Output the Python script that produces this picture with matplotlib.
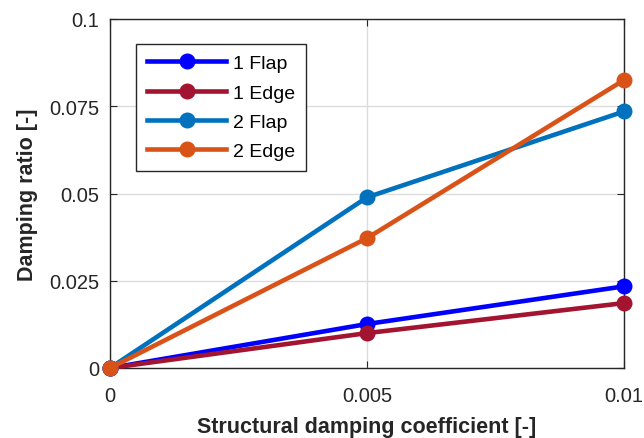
import matplotlib
matplotlib.use("Agg")
import matplotlib.pyplot as plt

x = [0, 0.005, 0.01]
flap1 = [0, 0.0126, 0.0234]
edge1 = [0, 0.0100, 0.0186]
flap2 = [0, 0.0489, 0.0735]
edge2 = [0, 0.0372, 0.0825]
labels = ["1 Flap", "1 Edge", "2 Flap", "2 Edge"]
colors = ["#0000ff", "#a2142f", "#0072bd", "#d95319"]
xticks = [0, 0.005, 0.01]
xticklabels = ["0", "0.005", "0.01"]
yticks = [0, 0.025, 0.05, 0.075, 0.1]
yticklabels = ["0", "0.025", "0.05", "0.075", "0.1"]

plt.rcParams['font.family'] = ['Liberation Sans', 'DejaVu Sans']
fig = plt.figure(figsize=(6.44, 4.39), dpi=100)
ax = fig.add_axes([110/644, 1-369/439, 514/644, 349/439])

for ys, lab, c in zip([flap1, edge1, flap2, edge2], labels, colors):
    ax.plot(x, ys, '-o', color=c, lw=3.3, ms=10.5, label=lab, clip_on=False, zorder=3)

ax.set_xlim(0, 0.01)
ax.set_ylim(0, 0.1)
ax.set_xticks(xticks)
ax.set_xticklabels(xticklabels)
ax.set_yticks(yticks)
ax.set_yticklabels(yticklabels)
ax.grid(True, color='#dcdcdc', lw=1)
ax.set_axisbelow(True)
ax.tick_params(direction='in', top=True, right=True, labelsize=14.5, colors='#262626', length=5)
ax.tick_params(axis='y', pad=8)
ax.tick_params(axis='x', pad=13)
for s in ax.spines.values():
    s.set_color('#262626')
    s.set_linewidth(1)
ax.set_xlabel("Structural damping coefficient [-]", fontsize=15.5, fontweight='bold', color='#262626', labelpad=8)
ax.set_ylabel("Damping ratio [-]", fontsize=15.5, fontweight='bold', color='#262626', labelpad=8)

leg = ax.legend(loc='upper left', bbox_to_anchor=(26/514, 1-25/349), borderaxespad=0, fontsize=14, frameon=True,
                fancybox=False, edgecolor='#262626', framealpha=1, handlelength=4.1,
                borderpad=0.55, labelspacing=0.6, handletextpad=0.35)
leg.get_frame().set_linewidth(1)

fig.savefig("out.png", dpi=100)
